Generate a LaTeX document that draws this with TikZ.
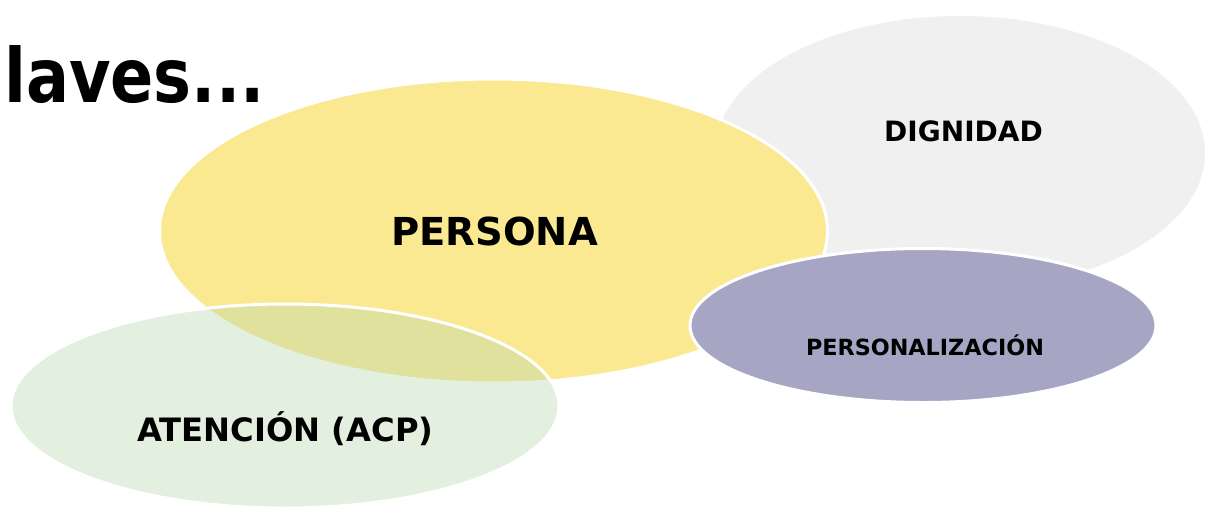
\documentclass[tikz,border=0pt]{standalone}
\usepackage{fontspec}
\setmainfont{DejaVu Sans}
\newfontfamily\titlefont{DejaVu Sans}[FakeStretch=0.85]
\begin{document}
\begin{tikzpicture}[x=1pt,y=-1pt,
  blob/.style={draw=white,line width=3pt},
  lbl/.style={inner sep=0pt,anchor=base,font=\bfseries}]
\definecolor{cgray}{RGB}{240,240,240}
\definecolor{cyellow}{RGB}{251,233,146}
\definecolor{cpurple}{RGB}{167,165,196}
\definecolor{cgreen}{RGB}{185,215,175}
\useasboundingbox (0,0) rectangle (1209,509);
\fill[white] (0,0) rectangle (1209,509);
\begin{scope}
\clip (0,0) rectangle (1209,509);
% DIGNIDAD
\fill[cgray] (960,153) ellipse [x radius=245, y radius=137];
% PERSONA
\path[blob,fill=cyellow] (493.5,231) ellipse [x radius=334, y radius=152];
% ATENCION
\path[blob,fill=cgreen,fill opacity=0.4] (285,406) ellipse [x radius=274, y radius=102];
% PERSONALIZACION
\path[blob,fill=cpurple] (923,325.5) ellipse [x radius=233, y radius=77];
\end{scope}
\node[lbl,anchor=base west,font=\titlefont\bfseries\fontsize{75}{80}\selectfont] (title) at (4,102) {laves...};
\node[lbl,font=\bfseries\fontsize{38.5}{42}\selectfont] (persona) at (494.5,245) {PERSONA};
\node[lbl,font=\bfseries\fontsize{28}{31}\selectfont] (dignidad) at (963.5,141.7) {DIGNIDAD};
\node[lbl,font=\bfseries\fontsize{22.3}{25}\selectfont] (personalizacion) at (925,355) {PERSONALIZACIÓN};
\node[lbl,font=\bfseries\fontsize{32.2}{35}\selectfont] (atencion) at (285.5,441) {ATENCIÓN (ACP)};
\end{tikzpicture}
\end{document}
